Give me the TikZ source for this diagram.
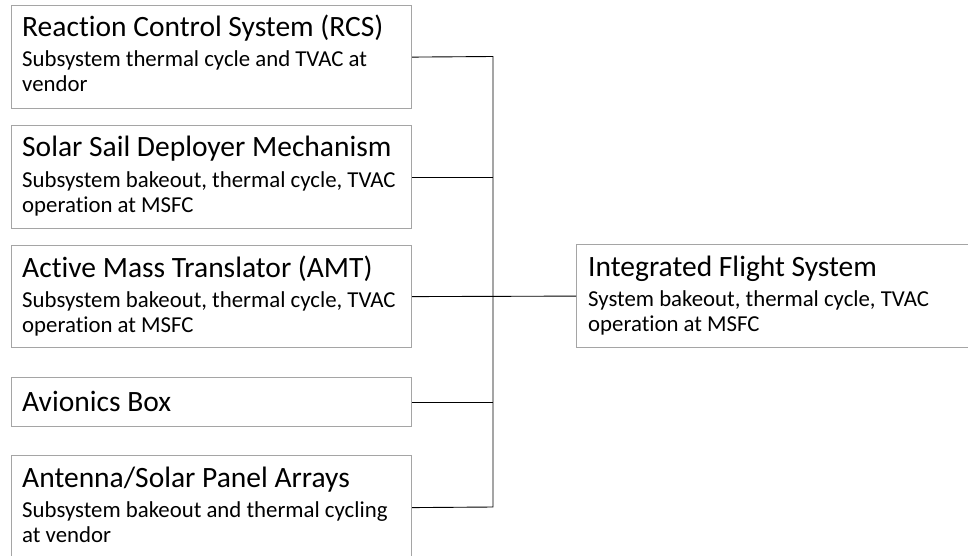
\documentclass[tikz,border=0pt]{standalone}
\usepackage{fontspec}
\setmainfont{Carlito}[Ligatures={NoCommon}]
\newcommand\ttlfont{\fontsize{29.5}{30}\selectfont}
\newcommand\subfont{\fontsize{22.8}{25}\selectfont}
\definecolor{boxgray}{HTML}{A5A5A5}
\begin{document}
\begin{tikzpicture}[x=1pt,y=-1pt,
  box/.style={draw=boxgray, line width=1.2pt, fill=white, rectangle, inner sep=0pt, anchor=north west, minimum width=400pt},
  ttl/.style={anchor=base west, inner sep=0pt, align=left, font=\ttlfont},
  sub/.style={anchor=base west, inner sep=0pt, align=left, font=\subfont},
  conn/.style={draw=black, line width=0.9pt}]
\useasboundingbox (0,0) rectangle (968,556);
\clip (0,0) rectangle (968,556);
\fill[white] (0,0) rectangle (968,556);
% boxes
\node[box, minimum height=103pt] (b1) at (11,5) {};
\node[box, minimum height=103pt] (b2) at (11,125) {};
\node[box, minimum height=102pt] (b3) at (11,245) {};
\node[box, minimum height=49pt] (b4) at (11,377) {};
\node[box, minimum height=104pt] (b5) at (11,455) {};
\node[box, minimum height=103pt, minimum width=400pt] (r) at (576,244) {};
% texts (sub nodes are placed by the baseline of their last line)
\node[ttl] (t1) at (22,37) {Reaction Control System (RCS)};
\node[sub] (s1) at (22,92) {Subsystem thermal cycle and TVAC at\\vendor};
\node[ttl] (t2) at (22,157) {Solar Sail Deployer Mechanism};
\node[sub] (s2) at (22,212) {Subsystem bakeout, thermal cycle, TVAC\\operation at MSFC};
\node[ttl] (t3) at (22,277) {Active Mass Translator (AMT)};
\node[sub] (s3) at (22,332) {Subsystem bakeout, thermal cycle, TVAC\\operation at MSFC};
\node[ttl] (t4) at (22,411) {Avionics Box};
\node[ttl] (t5) at (22,487) {Antenna/Solar Panel Arrays};
\node[sub] (s5) at (22,542) {Subsystem bakeout and thermal cycling\\at vendor};
\node[ttl] (tr) at (588,276) {Integrated Flight System};
\node[sub] (sr) at (588,331) {System bakeout, thermal cycle, TVAC\\operation at MSFC};
% connectors
\coordinate (top) at (493,56.5);
\coordinate (bot) at (493,507);
\draw[conn] (b1.east) -- (top) -- (bot) -- (b5.east);
\draw[conn] (b2.east) -- (b2.east -| top);
\draw[conn] (b3.east) -- (r.west);
\draw[conn] (b4.east) -- (b4.east -| top);
\end{tikzpicture}
\end{document}
